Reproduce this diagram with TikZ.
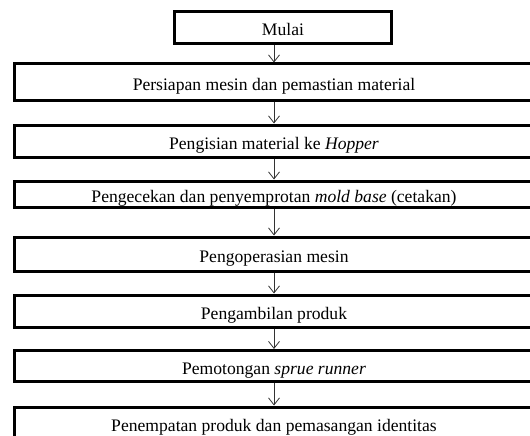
\documentclass[tikz,border=0pt]{standalone}
\usepackage{fontspec}
\setmainfont{Liberation Serif}
\usetikzlibrary{arrows.meta}
\tikzset{
  stepbox/.style={draw, line width=3pt, minimum width=519pt, inner sep=0pt,
    font=\fontsize{17.6}{19}\selectfont, text height=16pt, text depth=0pt},
  startbox/.style={stepbox, minimum width=217pt},
  flow/.style={-{Straight Barb[length=7pt,width=11pt]}, line width=0.8pt, black!80}
}
\begin{document}
\begin{tikzpicture}[x=1pt,y=-1pt]
\useasboundingbox (0,0) rectangle (530,436);
\clip (0,0) rectangle (530,436);
%langkah
\node[startbox, minimum height=32pt] (mulai) at (283,28) {Mulai};
\node[stepbox, minimum height=36pt] (s1) at (274,82) {Persiapan mesin dan pemastian material};
\node[stepbox, minimum height=32pt] (s2) at (274,141) {Pengisian material ke \textit{Hopper}};
\node[stepbox, minimum height=26pt] (s3) at (274,194) {Pengecekan dan penyemprotan \textit{mold base} (cetakan)};
\node[stepbox, minimum height=34pt] (s4) at (274,254) {Pengoperasian mesin};
\node[stepbox, minimum height=32pt] (s5) at (274,311) {Pengambilan produk};
\node[stepbox, minimum height=31pt] (s6) at (274,366) {Pemotongan \textit{sprue runner}};
\node[stepbox, minimum height=32pt] (s7) at (274,423) {Penempatan produk dan pemasangan identitas};
%panah
\draw[flow] (mulai.south -| s1.north) -- (s1.north);
\draw[flow] (s1.south) -- (s2.north);
\draw[flow] (s2.south) -- (s3.north);
\draw[flow] (s3.south) -- (s4.north);
\draw[flow] (s4.south) -- (s5.north);
\draw[flow] (s5.south) -- (s6.north);
\draw[flow] (s6.south) -- (s7.north);
\end{tikzpicture}
\end{document}
